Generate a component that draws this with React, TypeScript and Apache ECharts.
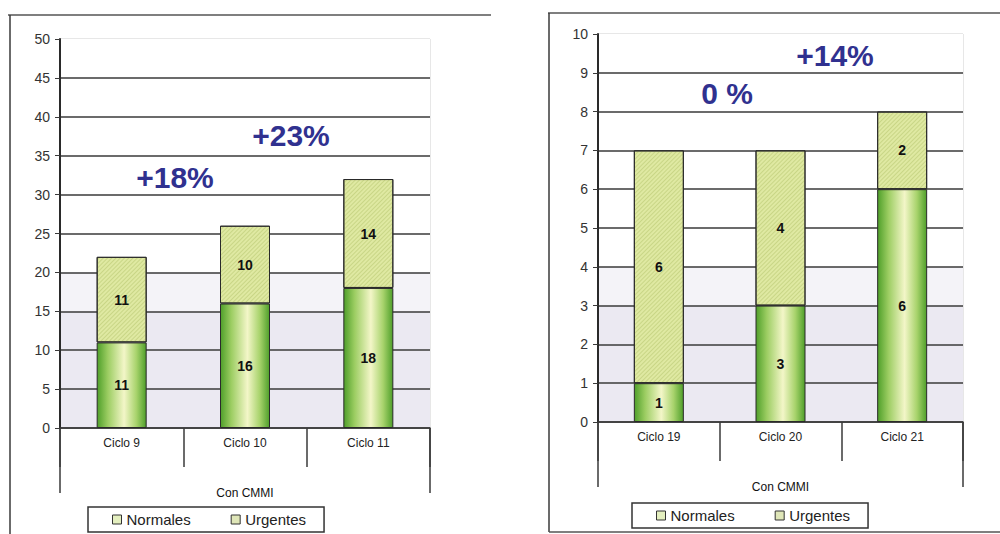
import React, { useEffect, useRef } from "react";
import * as echarts from "echarts";

// Left panel: cycles 9–11
const cyclesA = ["Ciclo 9", "Ciclo 10", "Ciclo 11"];
const normalesA = [11, 16, 18];
const urgentesA = [11, 10, 14];
const totalsA = [22, 26, 32];
const changesA = ["+18%", "+23%"];

// Right panel: cycles 19–21
const cyclesB = ["Ciclo 19", "Ciclo 20", "Ciclo 21"];
const normalesB = [1, 3, 6];
const urgentesB = [6, 4, 2];
const totalsB = [7, 7, 8];
const changesB = ["0 %", "+14%"];

const axisName = "Con CMMI";
const FONT = "'Liberation Sans', Arial, sans-serif";
const LINE = "#3a3a3a";
const PCT = "#30318f";
const LAV = "#ebe9f2";

// panel geometry (pixels)
const GA = { left: 60, top: 39, width: 370, height: 389 };
const GB = { left: 598, top: 34, width: 365, height: 388 };

const normalFill = new echarts.graphic.LinearGradient(0, 0, 1, 0, [
  { offset: 0, color: "#4f9f2a" },
  { offset: 0.22, color: "#9ccd62" },
  { offset: 0.55, color: "#f3f6c8" },
  { offset: 0.8, color: "#a8d36c" },
  { offset: 1, color: "#4f9f2a" },
]);

const urgentStyle = {
  color: "#dfe9a2",
  borderColor: "#2a2a2a",
  borderWidth: 1,
  decal: {
    symbol: "rect",
    dashArrayX: [1, 0],
    dashArrayY: [1, 2],
    rotation: -Math.PI / 4,
    color: "rgba(150,170,70,0.3)",
  },
};

function panelSeries(idx: number, normales: number[], urgentes: number[], totals: number[]) {
  const inner = { show: true, position: "inside", fontFamily: FONT, fontWeight: "bold", fontSize: 14, color: "#111" };
  return [
    {
      name: "Normales",
      type: "bar",
      stack: "s" + idx,
      xAxisIndex: idx,
      yAxisIndex: idx,
      barWidth: 50,
      data: normales,
      itemStyle: { color: normalFill, borderColor: "#2a2a2a", borderWidth: 1 },
      label: inner,
    },
    {
      name: "Urgentes",
      type: "bar",
      stack: "s" + idx,
      xAxisIndex: idx,
      yAxisIndex: idx,
      barWidth: 50,
      data: urgentes,
      itemStyle: urgentStyle,
      label: inner,
    },
    {
      name: "Total",
      type: "line",
      xAxisIndex: idx,
      yAxisIndex: idx,
      data: totals,
      symbol: "none",
      lineStyle: { opacity: 0 },
      label: { show: true, position: "top", distance: 6, fontFamily: FONT, fontWeight: "bold", fontSize: 13, color: "#333" },
      z: 5,
    },
  ];
}

function xAxisFor(idx: number, cats: string[]) {
  return {
    type: "category",
    gridIndex: idx,
    data: cats,
    axisLine: { show: true, lineStyle: { color: LINE, width: 1.5 } },
    axisTick: { show: true, interval: 0, length: 39, lineStyle: { color: LINE, width: 1.5 } },
    axisLabel: { margin: 9, fontFamily: FONT, fontSize: 12, color: "#222" },
    name: axisName,
    nameLocation: "middle",
    nameGap: 59,
    nameTextStyle: { fontFamily: FONT, fontSize: 12, color: "#111" },
  };
}

function yAxisFor(idx: number, max: number, interval: number, bands: string[]) {
  return {
    type: "value",
    gridIndex: idx,
    min: 0,
    max,
    interval,
    axisLine: { show: true, lineStyle: { color: "#2a2a2a", width: 2 } },
    axisTick: { show: true, length: 5, lineStyle: { color: LINE } },
    axisLabel: { margin: 10, fontFamily: FONT, fontSize: 14, color: "#333" },
    splitLine: { show: true, showMaxLine: false, lineStyle: { color: LINE, width: 1.5 } },
    splitArea: { show: true, areaStyle: { color: bands } },
  };
}

const bands = [LAV, LAV, LAV, "#f4f3f8", "#fff", "#fff", "#fff", "#fff", "#fff", "#fff"];

function legendFor(left: number, top: number) {
  return {
    left,
    top,
    orient: "horizontal",
    padding: [5, 18, 5, 24],
    itemGap: 40,
    itemWidth: 9,
    itemHeight: 9,
    icon: "rect",
    borderColor: "#333",
    borderWidth: 1.5,
    backgroundColor: "#fff",
    textStyle: { fontFamily: FONT, fontSize: 15, color: "#222" },
    data: [
      { name: "Normales", itemStyle: { color: "#e4efbf", borderColor: "#333", borderWidth: 1, decal: "none" } },
      { name: "Urgentes", itemStyle: { color: "#dfe6b8", borderColor: "#333", borderWidth: 1, decal: "none" } },
    ],
  };
}

function pct(text: string, cx: number, cy: number) {
  return {
    type: "text",
    x: cx,
    y: cy,
    style: { text, fill: PCT, font: `bold 30px ${FONT}`, textAlign: "center", textVerticalAlign: "middle" },
    z: 10,
  };
}

function vline(x: number, y1: number, y2: number) {
  return { type: "line", shape: { x1: x, y1, x2: x, y2 }, style: { stroke: LINE, lineWidth: 1.5 }, z: 10 };
}
function hline(y: number, x1: number, x2: number) {
  return { type: "line", shape: { x1, y1: y, x2, y2: y }, style: { stroke: "#555", lineWidth: 1.5 }, z: 10 };
}

export default function App() {
  const ref = useRef<HTMLDivElement>(null);

  useEffect(() => {
    if (!ref.current) return;
    const chart = echarts.init(ref.current, null, { renderer: "svg" });
    const gridOpts = (g: typeof GA) => ({
      ...g,
      containLabel: false,
      show: true,
      borderColor: "#cfcfcf",
      borderWidth: 1,
      backgroundColor: "transparent",
    });
    const bottomA = GA.top + GA.height;
    const bottomB = GB.top + GB.height;
    chart.setOption({
      animation: false,
      backgroundColor: "#fff",
      grid: [gridOpts(GA), gridOpts(GB)],
      xAxis: [xAxisFor(0, cyclesA), xAxisFor(1, cyclesB)],
      yAxis: [yAxisFor(0, 50, 5, bands), yAxisFor(1, 10, 1, bands)],
      legend: [legendFor(88, 507), legendFor(632, 503)],
      series: [
        ...panelSeries(0, normalesA, urgentesA, totalsA),
        ...panelSeries(1, normalesB, urgentesB, totalsB),
      ],
      graphic: [
        // panel frames
        hline(15, 8, 491),
        vline(10, 15, 534),
        hline(13, 548, 1000),
        vline(549, 13, 532),
        hline(532, 549, 1000),
        // outer category separators running down to the axis title
        vline(GA.left, bottomA, bottomA + 65),
        vline(GA.left + GA.width, bottomA, bottomA + 65),
        vline(GB.left, bottomB, bottomB + 65),
        vline(GB.left + GB.width, bottomB, bottomB + 65),
        // change annotations
        pct(changesA[0], 175, 177),
        pct(changesA[1], 291, 135),
        pct(changesB[0], 727, 93),
        pct(changesB[1], 835, 55),
      ],
    });
    return () => chart.dispose();
  }, []);

  return (
    <div
      ref={ref}
      style={{ position: "absolute", left: 0, top: 0, width: 1000, height: 534, background: "#fff" }}
    />
  );
}
